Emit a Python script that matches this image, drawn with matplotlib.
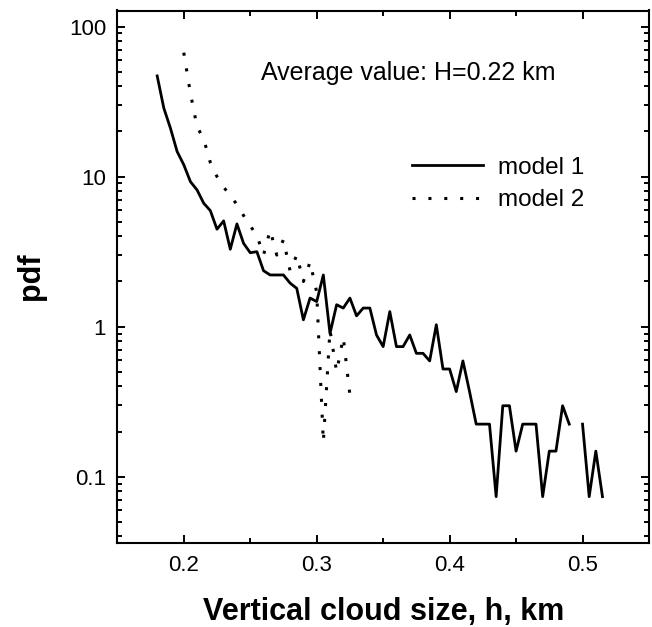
import matplotlib
matplotlib.use('Agg')
import matplotlib.pyplot as plt
import numpy as np

plt.rcParams['font.family'] = ['Liberation Sans', 'DejaVu Sans']

# model 1: bins every 0.005 km from 0.18 to 0.515
h1 = np.round(np.arange(0.180, 0.5151, 0.005), 3)
pdf1 = [46.9, 28.6, 21.0, 14.7, 12.0, 9.26, 8.15, 6.65, 5.93, 4.46,
        5.07, 3.28, 4.84, 3.59, 3.11, 3.16, 2.36, 2.21, 2.21, 2.21,
        1.95, 1.80, 1.11, 1.55, 1.47, 2.21, 0.90, 1.40, 1.33, 1.55,
        1.18, 1.33, 1.33, 0.88, 0.736, 1.26, 0.736, 0.736, 0.88, 0.664,
        0.664, 0.591, 1.03, 0.522, 0.522, 0.369, 0.591, 0.369, 0.224, 0.224,
        0.224, 0.0736, 0.297, 0.297, 0.148, 0.224, 0.224, 0.224, 0.0736, 0.148,
        0.148, 0.297, 0.224, np.nan, 0.224, 0.0736, 0.148, 0.0736]

# model 2: bins every 0.005 km from 0.2 to 0.325
h2 = np.round(np.arange(0.200, 0.3251, 0.005), 3)
pdf2 = [67, 36, 21.5, 17.8, 12.4, 10.0, 8.5, 7.5, 6.5, 5.5,
        4.7, 4.05, 3.0, 4.4, 3.0, 3.8, 2.35, 3.0, 2.0, 2.7,
        1.7, 0.17, 0.95, 0.5, 0.85, 0.35]

yticks = [0.1, 1, 10, 100]
ytick_labels = ['0.1', '1', '10', '100']
xticks = [0.2, 0.3, 0.4, 0.5]

fig = plt.figure(figsize=(6.52, 6.27), dpi=100)
ax = fig.add_axes([117.3 / 652, (627 - 542.7) / 627, 531.7 / 652, 532.2 / 627])

ax.plot(h1, pdf1, color='black', lw=2.0, label='model 1')
ax.plot(h2, pdf2, color='black', lw=2.2, dashes=(1, 4.2), label='model 2')

ax.set_yscale('log')
ax.set_xlim(0.15, 0.55)
ax.set_ylim(0.0363, 128)

ax.set_xticks(xticks)
ax.set_xticklabels(['0.2', '0.3', '0.4', '0.5'])
ax.set_xticks([0.25, 0.35, 0.45], minor=True)
ax.set_yticks(yticks)
ax.set_yticklabels(ytick_labels)

ax.tick_params(which='both', direction='in', top=True, right=True, width=1.4, labelsize=16)
ax.tick_params(which='major', length=5.5, pad=8)
ax.tick_params(which='minor', length=3.5)
ax.tick_params(axis='x', which='major', pad=9)
for s in ax.spines.values():
    s.set_linewidth(1.5)

ax.set_xlabel('Vertical cloud size, h, km', fontsize=22, fontweight='bold', labelpad=15)
ax.set_ylabel('pdf', fontsize=22, fontweight='bold')
ax.yaxis.set_label_coords(-0.135, 0.5)

ax.text(0.270, 0.869, 'Average value: H=0.22 km', transform=ax.transAxes,
        fontsize=18, va='baseline', ha='left')

ax.legend(loc='center left', bbox_to_anchor=(0.532, 0.674), frameon=False,
          fontsize=17.5, borderpad=0, handlelength=2.9, handletextpad=0.62,
          labelspacing=0.45)

fig.savefig('out.png', dpi=100)
